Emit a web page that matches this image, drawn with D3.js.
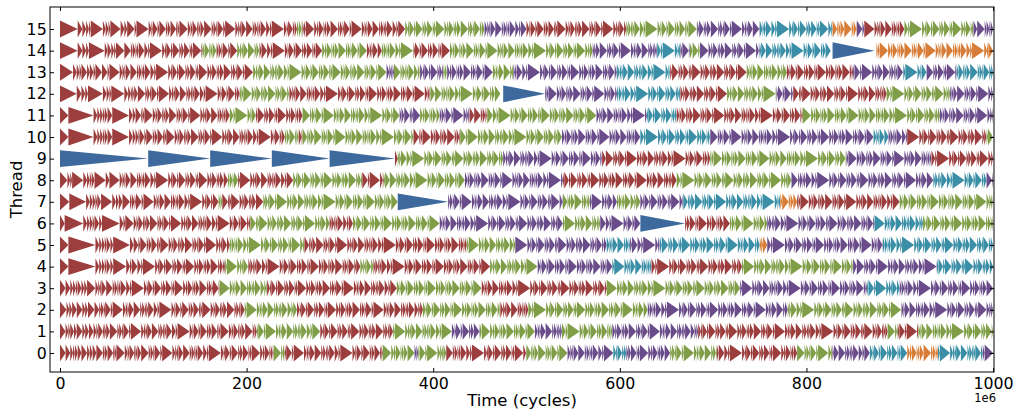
<!DOCTYPE html>
<html><head><meta charset="utf-8">
<script src="https://cdn.jsdelivr.net/npm/d3@7"></script>
<style>body{margin:0;background:#fff}svg{display:block}text{font-family:"DejaVu Sans",sans-serif;fill:#000}</style>
</head><body><svg id="c" width="1019" height="412"></svg>
<script>
// ---- data (time in units of 1e6 cycles) ----
const threads = [0,1,2,3,4,5,6,7,8,9,10,11,12,13,14,15];
const xTicks = [0,200,400,600,800,1000];
const colorKeys = ["R","G","P","T","O","B"];
const colorValues = ["#9c3e3d","#7f9e47","#6a4c8a","#3a8ea6","#d87d37","#3e699c"];

// phase segments per thread: [colour, start, end]
const seg0 = [["R",0,229],["G",229,241],["R",241,346],["G",346,380],["P",380,384],["G",384,414],["R",414,500],["G",500,544],["P",544,593],["T",593,607],["P",607,654],["G",654,704],["R",704,790],["G",790,828],["P",828,868],["T",868,908],["O",908,941],["T",941,989],["P",989,1000]];
const seg1 = [["R",0,211],["G",211,279],["R",279,357],["G",357,420],["P",420,450],["G",450,509],["P",509,538],["G",538,592],["P",592,684],["R",684,887],["G",887,898],["R",898,920],["G",920,1000]];
const seg2 = [["R",0,198],["G",198,254],["R",254,389],["G",389,472],["R",472,502],["G",502,630],["P",630,780],["G",780,902],["P",902,1000]];
const seg3 = [["R",0,171],["G",171,222],["R",222,361],["G",361,452],["R",452,586],["G",586,729],["P",729,865],["T",865,900],["P",900,1000]];
const seg4 = [["R",0,177],["G",177,202],["R",202,322],["G",322,336],["R",336,461],["G",461,512],["P",512,592],["T",592,634],["R",634,731],["G",731,850],["P",850,940],["T",940,1000]];
const seg5 = [["R",0,182],["G",182,262],["R",262,436],["G",436,488],["P",488,586],["T",586,611],["P",611,643],["T",643,750],["O",750,758],["P",758,882],["T",882,1000]];
const seg6 = [["R",0,204],["G",204,289],["R",289,314],["G",314,407],["P",407,539],["G",539,579],["P",579,622],["R",670,718],["G",718,758],["P",758,873],["T",873,925],["G",925,1000]];
const seg7 = [["R",0,170],["G",170,174],["R",174,218],["G",218,362],["P",416,539],["G",539,568],["P",568,597],["G",597,622],["P",622,668],["T",668,772],["O",772,790],["R",790,900],["G",900,1000]];
const seg8 = [["R",0,180],["G",180,191],["R",191,250],["G",250,324],["R",324,347],["G",347,434],["P",434,539],["R",539,661],["G",661,784],["P",784,936],["T",936,993],["P",993,1000]];
const seg9 = [["R",359,362],["G",362,475],["P",475,581],["R",581,697],["G",697,843],["P",843,934],["R",934,1000]];
const seg10 = [["R",0,241],["G",241,256],["R",256,260],["G",260,379],["R",379,429],["G",429,538],["P",538,622],["T",622,697],["P",697,872],["T",872,888],["P",888,908],["R",908,993],["G",993,1000]];
const seg11 = [["R",0,182],["G",182,210],["R",210,260],["G",260,364],["P",364,386],["G",386,407],["P",407,439],["R",439,458],["G",458,575],["P",575,629],["T",629,661],["R",661,796],["G",796,943],["P",943,1000]];
const seg12 = [["R",0,193],["G",193,246],["R",246,397],["G",397,472],["P",520,597],["T",597,665],["R",665,715],["G",715,768],["P",768,786],["R",786,886],["G",886,954],["P",954,1000]];
const seg13 = [["R",0,207],["G",207,350],["P",350,358],["G",358,386],["P",386,411],["G",411,415],["P",415,464],["G",464,486],["P",486,597],["T",597,654],["R",654,736],["G",736,779],["R",779,850],["P",850,904],["T",904,929],["P",929,961],["T",961,1000]];
const seg14 = [["R",0,153],["G",153,168],["R",168,190],["G",190,214],["R",214,281],["G",281,329],["R",329,345],["G",345,379],["R",379,418],["G",418,571],["P",571,640],["T",640,665],["P",665,675],["G",675,686],["P",686,750],["T",750,826],["O",875,1000]];
const seg15 = [["R",0,254],["G",254,260],["R",260,370],["G",370,455],["P",455,500],["R",500,607],["G",607,683],["P",683,750],["T",750,828],["O",828,854],["P",854,862],["R",862,905],["G",905,979],["P",979,1000]];
const segments = [seg0,seg1,seg2,seg3,seg4,seg5,seg6,seg7,seg8,seg9,seg10,seg11,seg12,seg13,seg14,seg15];

// long single tasks: [thread, start, end]
const longTasks = [[9,0,94.5],[9,94.5,161],[9,161,227],[9,227,289],[9,289,359],[7,362,416],[12,475,520],[6,622,670],[14,828,873]];

// leading task durations per thread (read from the start of each row)
const lead0 = [6,5,3,2,3,4,6,3,3,4];
const lead1 = [6,3,2,4,3,6,3,4,5];
const lead2 = [7,3,3,5,6,3,3,7,5];
const lead3 = [6,5,3,3,2,4,3,3,9,3];
const lead4 = [9,29,4,3,3,2,4,3,14,4];
const lead5 = [9,29,4,3,3,2,4,3,18,4];
const lead6 = [5,20,4,3,3,2,5,3,19,4];
const lead7 = [10,18,4,3,3,2,4,12,4,3];
const lead8 = [8,3,2,12,4,3,2,3,12,4];
const lead9 = [];
const lead10 = [9,27,4,3,3,2,3,5,18,4,3];
const lead11 = [9,27,4,3,3,2,3,5,18,4,3];
const lead12 = [18,5,4,3,16,4,3,2,14,4,3];
const lead13 = [14,4,3,2,6,3,4,2,7];
const lead14 = [19,5,4,3,17,3,4,3,2,9];
const lead15 = [19,5,4,3,2,13,3,3,2,11,4,3,8];
const leads = [lead0,lead1,lead2,lead3,lead4,lead5,lead6,lead7,lead8,lead9,lead10,lead11,lead12,lead13,lead14,lead15];

// typical task durations seen inside phases
const durPattern = [7,2,3,6,1.5,2,9,3,2,5,1.5,2,4,8,2,3,1.5,6,2,11,3,2,1.5,5,7,2,3,1.5,2,6,4,2,13,3,1.5,5,2];

// ---- drawing ----
const svg = d3.select("#c");
const L=50,R=994,T=7,B=372;
const x = d3.scaleLinear().domain([-10.7,1001]).range([L,R]);
const y = d3.scaleLinear().domain([-0.88,16.02]).range([B,T]);
const color = d3.scaleOrdinal().domain(colorKeys).range(colorValues);
const H = 0.39;

const tasks = [];
threads.forEach(t=>{
  let pi = (t*7)%durPattern.length;
  let li = 0;
  segments[t].forEach(([c,s,e])=>{
    let cur = s;
    while(cur < e-0.05){
      let d;
      if(li < leads[t].length){ d = leads[t][li++]; }
      else { d = durPattern[pi]; pi=(pi+1)%durPattern.length; }
      const end = Math.min(cur+d, e);
      tasks.push({t, c, s:cur, e:end});
      cur = end;
    }
  });
});
longTasks.forEach(([t,s,e])=>tasks.push({t,c:"B",s,e}));

const tri = d => `M${x(d.s)},${y(d.t+H)}L${x(d.e)},${y(d.t)}L${x(d.s)},${y(d.t-H)}Z`;
svg.append("g").selectAll("path").data(tasks).join("path")
  .attr("d",tri).attr("fill",d=>color(d.c));

// axes
const fs = "15.8px";
const gB = svg.append("g").attr("transform",`translate(0,${B})`)
  .call(d3.axisBottom(x).tickValues(xTicks).tickSize(-4).tickPadding(5.3).tickFormat(d3.format("d")));
const gT = svg.append("g").attr("transform",`translate(0,${T})`)
  .call(d3.axisTop(x).tickValues(xTicks).tickSize(-4).tickFormat(""));
const gL = svg.append("g").attr("transform",`translate(${L},0)`)
  .call(d3.axisLeft(y).tickValues(threads).tickSize(-4).tickPadding(3.3));
const gR = svg.append("g").attr("transform",`translate(${R},0)`)
  .call(d3.axisRight(y).tickValues(threads).tickSize(-4).tickFormat(""));
[gB,gT,gL,gR].forEach(g=>{
  g.select(".domain").remove();
  g.selectAll("line").attr("stroke","#000").attr("stroke-width",1);
  g.selectAll("text").style("font-size",fs).style("font-family","DejaVu Sans").attr("fill","#000");
});
svg.append("rect").attr("x",L).attr("y",T).attr("width",R-L).attr("height",B-T)
  .attr("fill","none").attr("stroke","#000").attr("stroke-width",1);

svg.append("text").attr("x",(L+R)/2).attr("y",406).attr("text-anchor","middle")
  .style("font-size","16.5px").text("Time (cycles)");
svg.append("text").attr("transform",`translate(22,${(T+B)/2}) rotate(-90)`).attr("text-anchor","middle")
  .style("font-size","16.5px").text("Thread");
svg.append("text").attr("x",996).attr("y",402).attr("text-anchor","end")
  .style("font-size","11.5px").text("1e6");
</script></body></html>
